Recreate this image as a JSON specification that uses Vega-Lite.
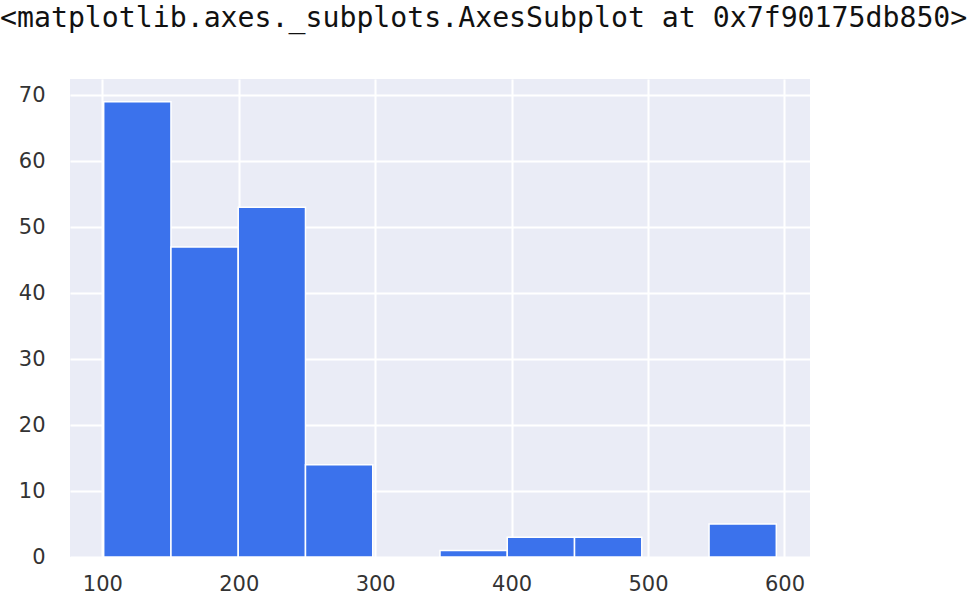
{
  "$schema": "https://vega.github.io/schema/vega-lite/v6.json",
  "width": 740,
  "height": 478,
  "autosize": {"type": "none"},
  "padding": {"left": 70, "top": 79, "right": 165, "bottom": 45},
  "background": "white",
  "title": {
    "text": "<matplotlib.axes._subplots.AxesSubplot at 0x7f90175db850>",
    "anchor": "start",
    "frame": "group",
    "dx": -70,
    "font": "DejaVu Sans Mono",
    "fontSize": 28.2,
    "fontWeight": "normal",
    "color": "#111111",
    "baseline": "alphabetic",
    "offset": 24
  },
  "config": {
    "view": {"fill": "#eaecf6", "stroke": null},
    "axis": {
      "domain": false,
      "ticks": false,
      "gridColor": "white",
      "gridWidth": 2,
      "labelFont": "DejaVu Sans",
      "labelFontSize": 21,
      "labelColor": "#333333",
      "title": null
    }
  },
  "data": {
    "values": [
      {"bin_start": 101.0, "bin_end": 150.3, "count": 69},
      {"bin_start": 150.3, "bin_end": 199.6, "count": 47},
      {"bin_start": 199.6, "bin_end": 248.9, "count": 53},
      {"bin_start": 248.9, "bin_end": 298.2, "count": 14},
      {"bin_start": 347.5, "bin_end": 396.8, "count": 1},
      {"bin_start": 396.8, "bin_end": 446.1, "count": 3},
      {"bin_start": 446.1, "bin_end": 495.4, "count": 3},
      {"bin_start": 544.7, "bin_end": 594.0, "count": 5}
    ]
  },
  "mark": {"type": "bar", "color": "#3b72ec", "stroke": "white", "strokeWidth": 1.5},
  "encoding": {
    "x": {
      "field": "bin_start",
      "type": "quantitative",
      "scale": {"domain": [76.3, 618.7], "nice": false, "zero": false},
      "axis": {"values": [100, 200, 300, 400, 500, 600], "labelPadding": 16}
    },
    "x2": {"field": "bin_end"},
    "y": {
      "field": "count",
      "type": "quantitative",
      "scale": {"domain": [0, 72.45], "nice": false},
      "axis": {"values": [0, 10, 20, 30, 40, 50, 60, 70], "labelPadding": 25}
    },
    "y2": {"datum": 0}
  }
}
